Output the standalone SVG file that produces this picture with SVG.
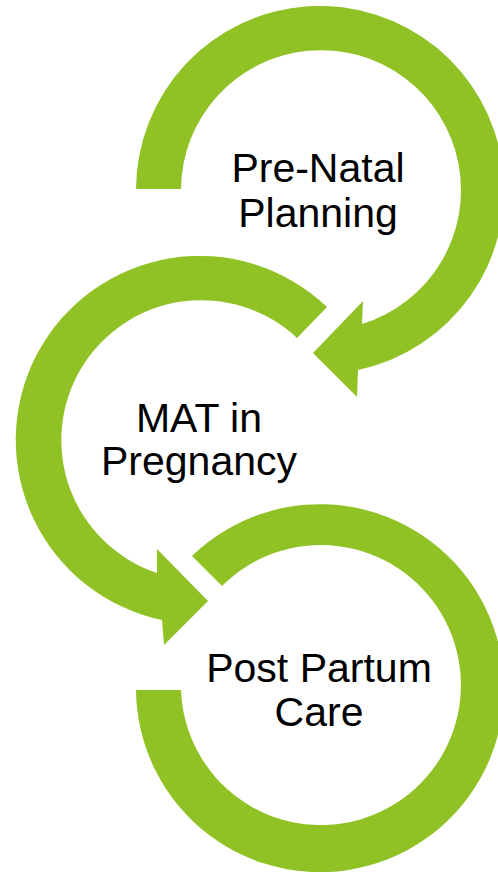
<svg xmlns="http://www.w3.org/2000/svg" width="498" height="872" viewBox="0 0 498 872">
<style>
.arrow{fill:#90C226;stroke:none}
.lbl{font-family:"Liberation Sans","Open Sans",Arial,sans-serif;font-size:41px;fill:#000;text-anchor:middle}
</style>
<rect width="498" height="872" fill="#fff"/>
<g id="connectors"></g>
<g id="node-prenatal">
<path class="arrow" d="M136,189 A184,184 0 1 1 358,370 L357,397 L313,353 L363,301 L362,324 A140,140 0 1 0 181,189 Z"/>
<text class="lbl" x="318" y="182">Pre-Natal</text>
<text class="lbl" x="318" y="227">Planning</text>
</g>
<g id="node-mat">
<path class="arrow" d="M327,307 A184,184 0 1 0 162,620 L164,645 L208,601 L157,549 L157,573 A140,140 0 1 1 297,338 Z"/>
<text class="lbl" x="199" y="432">MAT in</text>
<text class="lbl" x="199" y="475">Pregnancy</text>
</g>
<g id="node-postpartum">
<path class="arrow" d="M192,556 A184,184 0 1 1 136,690 L181,690 A140,140 0 1 0 222,586 Z"/>
<text class="lbl" x="319" y="682">Post Partum</text>
<text class="lbl" x="319" y="726">Care</text>
</g>
</svg>
